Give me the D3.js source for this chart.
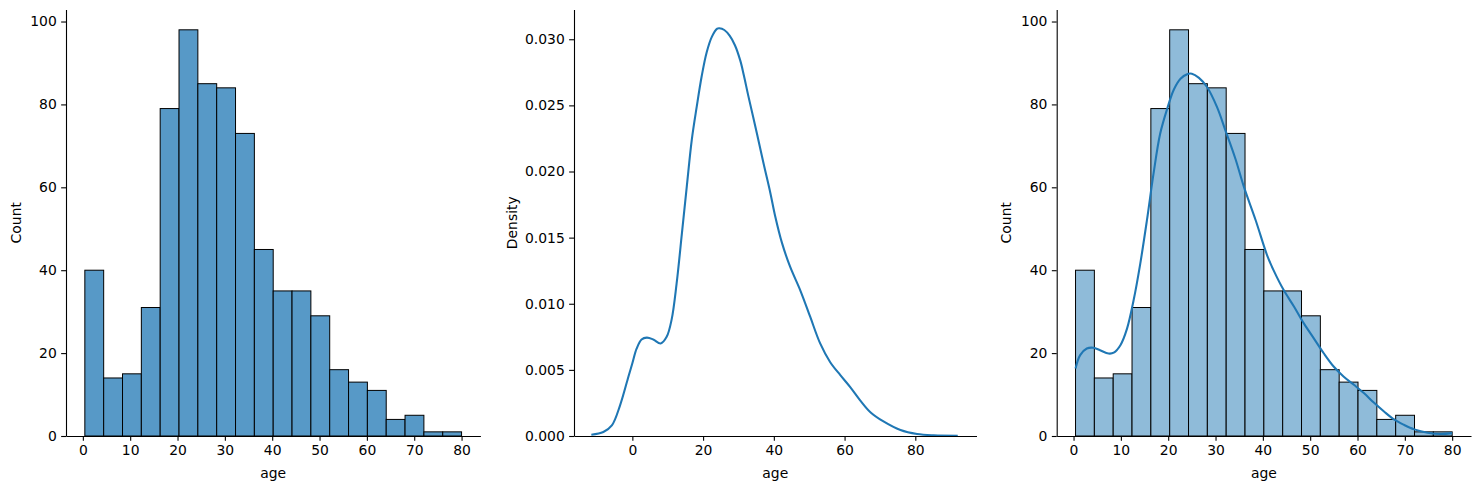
<!DOCTYPE html>
<html>
<head>
<meta charset="utf-8">
<script src="https://cdn.jsdelivr.net/npm/d3@7"></script>
<style>
  html, body { margin: 0; padding: 0; background: #fff; }
  svg { display: block; }
  text { font-family: "DejaVu Sans", sans-serif; }
</style>
</head>
<body>
<svg id="chart" width="1479" height="489"></svg>
<script>
// ---- Data ----
const binEdges = [0.42, 4.399, 8.378, 12.357, 16.336, 20.315, 24.294, 28.273, 32.252, 36.231,
  40.21, 44.189, 48.168, 52.147, 56.126, 60.105, 64.084, 68.063, 72.042, 76.021, 80];
const counts = [40, 14, 15, 31, 79, 98, 85, 84, 73, 45, 35, 35, 29, 16, 13, 11, 4, 5, 1, 1];

// KDE density (panel 2)
const kdeAge = [-11.6, -8.2, -5.8, -3.5, -1.1, 0, 1.2, 2.6, 4.1, 5.9, 8.0, 9.7, 11.1, 12.5, 14.0,
  15.4, 16.8, 18.2, 19.6, 21.0, 22.5, 24.0, 24.6, 26.0, 27.5, 29.0, 30.5, 31.5, 32.8, 35.2, 37.1,
  39.0, 40.4, 42.3, 44.6, 47.5, 50.3, 53.1, 55.9, 58.8, 61.6, 64.4, 67.3, 71.0, 75.8, 80.5, 85.2, 92.0];
const kdeDensity = [0.0001, 0.0003, 0.0008, 0.0023, 0.0045, 0.0055, 0.0066, 0.0073, 0.00744, 0.0073,
  0.0070, 0.0075, 0.0088, 0.0115, 0.0153, 0.0189, 0.0224, 0.0249, 0.0272, 0.0290, 0.0302, 0.0308,
  0.03083, 0.0307, 0.03027, 0.02955, 0.0284, 0.0273, 0.0257, 0.0229, 0.0206,
  0.0184, 0.0166, 0.0146, 0.0128, 0.0110, 0.0090, 0.0070, 0.0056, 0.0046, 0.0037, 0.0027, 0.0018,
  0.0011, 0.00045, 0.00015, 0.00005, 0.00002];

// KDE scaled to counts (panel 3)
const kdeCountAge = [0.42, 1.4, 2.8, 4.2, 5.6, 7.4, 8.5, 9.9, 11.3, 12.7, 14.1, 15.5, 16.9, 18.3,
  19.8, 21.2, 22.6, 24.0, 25.0, 26.5, 28.2, 30.3, 32.1, 34.2, 36.0, 38.5, 40.9, 42.3,
  44.4, 46.6, 48.7, 50.8, 52.9, 55.0, 57.1, 59.3, 61.4, 63.5, 65.6, 67.7, 69.8, 72.0, 74.8, 77.6, 80];
const kdeCount = [16.3, 19.5, 21.1, 21.3, 20.7, 19.9, 20.1, 21.9, 25.9, 32.8, 41.6, 52.0, 63.3, 72.9,
  79.0, 83.6, 86.2, 87.3, 87.4, 86.4, 84.2, 79.4, 73.7, 66.9, 60.1, 52.0, 43.6, 39.9,
  35.2, 31.2, 27.1, 23.5, 19.9, 16.7, 14.3, 12.3, 10.3, 8.0, 5.9, 4.0, 2.7, 1.6, 0.8, 0.5, 0.7];

const histXTicks = [0, 10, 20, 30, 40, 50, 60, 70, 80];
const countTicks = [0, 20, 40, 60, 80, 100];
const kdeXTicks = [0, 20, 40, 60, 80];
const densityTicks = [0, 0.005, 0.010, 0.015, 0.020, 0.025, 0.030];

// ---- Layout ----
const svg = d3.select("#chart");
const FONT = 13.9;
const TICK = 4.86;
const TOP = 9.5, BOTTOM = 436;

function makeAxes(left, right, xDomain, yDomain, xTicks, yTicks, yFmt, yLabel, yLabelX) {
  const x = d3.scaleLinear().domain(xDomain).range([left, right]);
  const y = d3.scaleLinear().domain(yDomain).range([BOTTOM, TOP]);
  const g = svg.append("g");
  return { x, y, g, draw() {
    const gx = g.append("g").attr("transform", `translate(0,${BOTTOM})`)
      .call(d3.axisBottom(x).tickValues(xTicks).tickSize(TICK).tickSizeOuter(0).tickPadding(4.4).tickFormat(d3.format("d")));
    const gy = g.append("g").attr("transform", `translate(${left},0)`)
      .call(d3.axisLeft(y).tickValues(yTicks).tickSize(TICK).tickSizeOuter(0).tickPadding(4.4).tickFormat(yFmt));
    [gx, gy].forEach(a => {
      a.selectAll("path.domain").attr("stroke", "#000").attr("stroke-width", 1.1);
      a.selectAll(".tick line").attr("stroke", "#000").attr("stroke-width", 1.1);
      a.selectAll(".tick text").attr("font-size", FONT).attr("fill", "#000")
        .attr("font-family", "DejaVu Sans, sans-serif");
    });
    g.append("text").attr("x", (left + right) / 2).attr("y", 477.5)
      .attr("text-anchor", "middle").attr("font-size", FONT).text("age");
    g.append("text").attr("transform", `translate(${yLabelX},${(TOP + BOTTOM) / 2}) rotate(-90)`)
      .attr("text-anchor", "middle").attr("font-size", FONT).text(yLabel);
  }};
}

function drawHist(ax, fill) {
  ax.g.append("g").selectAll("rect").data(counts).join("rect")
    .attr("x", (d, i) => ax.x(binEdges[i]))
    .attr("width", (d, i) => ax.x(binEdges[i + 1]) - ax.x(binEdges[i]))
    .attr("y", d => ax.y(d))
    .attr("height", d => ax.y(0) - ax.y(d))
    .attr("fill", fill).attr("stroke", "#000").attr("stroke-width", 1);
}

// Panel 1
const a1 = makeAxes(66, 480.4, [-3.559, 83.979], [0, 102.9], histXTicks, countTicks, d3.format("d"), "Count", 21);
drawHist(a1, "#5799c7");
a1.draw();

// Panel 2
const a2 = makeAxes(574, 976.5, [-16.5, 97.3], [0, 0.03225], kdeXTicks, densityTicks, d3.format(".3f"), "Density", 517);
a2.g.append("path")
  .datum(kdeAge.map((a, i) => [a, kdeDensity[i]]))
  .attr("d", d3.line().x(d => a2.x(d[0])).y(d => a2.y(d[1])).curve(d3.curveCatmullRom.alpha(0.5)))
  .attr("fill", "none").attr("stroke", "#1f77b4").attr("stroke-width", 2.08);
a2.draw();

// Panel 3
const a3 = makeAxes(1056.7, 1471, [-3.559, 83.979], [0, 102.9], histXTicks, countTicks, d3.format("d"), "Count", 1011);
drawHist(a3, "#8fbbd9");
a3.g.append("path")
  .datum(kdeCountAge.map((a, i) => [a, kdeCount[i]]))
  .attr("d", d3.line().x(d => a3.x(d[0])).y(d => a3.y(d[1])).curve(d3.curveCatmullRom.alpha(0.5)))
  .attr("fill", "none").attr("stroke", "#1f77b4").attr("stroke-width", 2.08);
a3.draw();
</script>
</body>
</html>
